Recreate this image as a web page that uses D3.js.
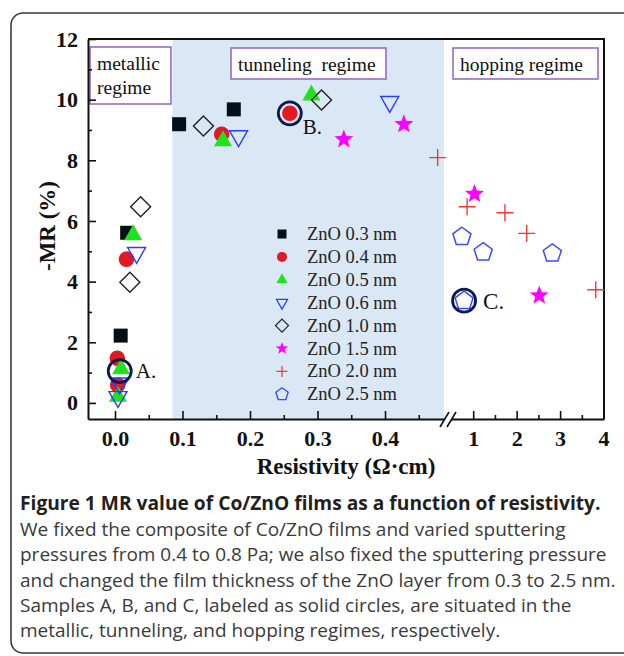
<!DOCTYPE html>
<html><head><meta charset="utf-8">
<script src="https://cdn.jsdelivr.net/npm/d3@7"></script>
<style>body{margin:0;background:#fff}</style>
</head><body>
<svg id="c" width="624" height="656"></svg>
<script>
// ---------- data ----------
const seriesNames = ["ZnO 0.3 nm","ZnO 0.4 nm","ZnO 0.5 nm","ZnO 0.6 nm","ZnO 1.0 nm","ZnO 1.5 nm","ZnO 2.0 nm","ZnO 2.5 nm"];
// [resistivity (Ω·cm), -MR (%)]
const zno03 = [[0.018,5.61],[0.0084,2.22],[0.095,9.19],[0.176,9.68]];
const zno04 = [[0.017,4.74],[0.0034,1.47],[0.004,0.59],[0.158,8.86],[0.259,9.55]];
const zno05 = [[0.027,5.54],[0.009,1.12],[0.0044,0.21],[0.160,8.64],[0.291,10.15]];
const zno06 = [[0.032,4.95],[0.007,0.65],[0.0044,0.20],[0.183,8.80],[0.407,9.93]];
const zno10 = [[0.038,6.47],[0.022,3.98],[0.131,9.13],[0.306,9.99]];
const zno15 = [[0.339,8.69],[0.428,9.19],[1.03,6.89],[2.52,3.54]];
const zno20 = [[0.478,8.09],[0.86,6.47],[1.73,6.27],[2.23,5.59],[3.82,3.73]];
const zno25 = [[0.74,5.48],[1.23,4.97],[2.82,4.93],[0.79,3.37]];
const samples = [["A.",0.007,1.05],["B.",0.259,9.55],["C.",0.79,3.37]];
const regimeNames = ["metallic regime","tunneling regime","hopping regime"];
const tunnelingRange = [0.085, 0.4875];
const yTicks = [0,2,4,6,8,10,12];
const yMinor = [1,3,5,7,9,11];
const xTicksLeft = [0.0,0.1,0.2,0.3,0.4];
const xMinorLeft = [0.05,0.15,0.25,0.35,0.45];
const xTicksRight = [1,2,3,4];
const xMinorRight = [1.5,2.5,3.5];
const captionTitle = "Figure 1 MR value of Co/ZnO films as a function of resistivity.";
const captionLines = [
 "We fixed the composite of Co/ZnO films and varied sputtering",
 "pressures from 0.4 to 0.8 Pa; we also fixed the sputtering pressure",
 "and changed the film thickness of the ZnO layer from 0.3 to 2.5 nm.",
 "Samples A, B, and C, labeled as solid circles, are situated in the",
 "metallic, tunneling, and hopping regimes, respectively."];

// ---------- layout ----------
const svg = d3.select("#c");
const L = 88, R = 604, T = 39, B = 419, BRK = 448;
const xL = d3.scaleLinear().domain([-0.04, 0.49]).range([L, 445.75]);
const xR = d3.scaleLinear().domain([0.42, 4.01]).range([BRK, R]);
const y = d3.scaleLinear().domain([-0.53, 12]).range([B, T]);
const xPos = v => v < 0.49 ? xL(v) : xR(v);
const serif = "'Liberation Serif','Times New Roman',serif";

// frame
svg.append("rect").attr("x",11).attr("y",13).attr("width",650).attr("height",640)
  .attr("rx",12).attr("fill","none").attr("stroke","#3a3a3a").attr("stroke-width",1.6);

// tunneling background
svg.append("rect").attr("x",xL(tunnelingRange[0])).attr("y",T)
  .attr("width",xL(tunnelingRange[1])-xL(tunnelingRange[0])).attr("height",B-T)
  .attr("fill","#dae8f5");

// regime boxes
const boxes = [
  {x:90,y:47,w:81,h:57,lines:["metallic","regime"]},
  {x:231,y:48,w:155,h:31,lines:["tunneling  regime"]},
  {x:453,y:48,w:145,h:31,lines:["hopping regime"]}];
boxes.forEach(b=>{
  svg.append("rect").attr("x",b.x).attr("y",b.y).attr("width",b.w).attr("height",b.h)
    .attr("fill","#fff").attr("stroke","#9a6cc4").attr("stroke-width",1.6);
  b.lines.forEach((t,i)=>{
    svg.append("text").attr("x",b.x+7).attr("y",b.y+23+i*24).text(t)
      .attr("font-family",serif).attr("font-size",19.5).attr("fill","#111")
      .attr("xml:space","preserve").style("white-space","pre");
  });
});

// axes
function styleAxis(g){
  g.selectAll("text").attr("font-family",serif).attr("font-size",22).attr("font-weight","bold").attr("fill","#111");
  g.selectAll("line").attr("stroke","#111").attr("stroke-width",1.6);
  g.selectAll("path").attr("stroke","#111").attr("stroke-width",2);
}
const gy = svg.append("g").attr("transform",`translate(${L},0)`)
  .call(d3.axisLeft(y).tickValues(yTicks).tickFormat(d3.format("d")).tickSize(-8).tickSizeOuter(0).tickPadding(10));
styleAxis(gy);
const gym = svg.append("g").attr("transform",`translate(${L},0)`)
  .call(d3.axisLeft(y).tickValues(yMinor).tickFormat("").tickSize(-4).tickSizeOuter(0));
styleAxis(gym); gym.select(".domain").remove();

const gxl = svg.append("g").attr("transform",`translate(0,${B})`)
  .call(d3.axisBottom(xL).tickValues(xTicksLeft).tickFormat(d3.format(".1f")).tickSize(-8).tickSizeOuter(0).tickPadding(11));
styleAxis(gxl);
const gxlm = svg.append("g").attr("transform",`translate(0,${B})`)
  .call(d3.axisBottom(xL).tickValues(xMinorLeft).tickFormat("").tickSize(-4).tickSizeOuter(0));
styleAxis(gxlm); gxlm.select(".domain").remove();
const gxr = svg.append("g").attr("transform",`translate(0,${B})`)
  .call(d3.axisBottom(xR).tickValues(xTicksRight).tickFormat(d3.format("d")).tickSize(-8).tickSizeOuter(0).tickPadding(11));
styleAxis(gxr);
const gxrm = svg.append("g").attr("transform",`translate(0,${B})`)
  .call(d3.axisBottom(xR).tickValues(xMinorRight).tickFormat("").tickSize(-4).tickSizeOuter(0));
styleAxis(gxrm); gxrm.select(".domain").remove();

// top and right frame lines
svg.append("path").attr("d",`M${L},${T}H${R}V${B}`).attr("fill","none").attr("stroke","#111").attr("stroke-width",2);

// axis break
svg.append("path").attr("d",`M${BRK-8},${B+8}L${BRK+1},${B-7}L${BRK+8},${B-7}L${BRK-1},${B+8}Z`).attr("fill","#fff");
svg.append("path").attr("d",`M${BRK-8},${B+8}L${BRK+1},${B-7}M${BRK-1},${B+8}L${BRK+8},${B-7}`)
  .attr("stroke","#111").attr("stroke-width",1.6).attr("fill","none");

// axis titles
svg.append("text").attr("x",(L+R)/2).attr("y",474).attr("text-anchor","middle")
  .attr("font-family",serif).attr("font-size",23).attr("font-weight","bold").attr("fill","#111")
  .text("Resistivity (Ω·cm)");
svg.append("text").attr("transform",`translate(55,226) rotate(-90)`).attr("text-anchor","middle")
  .attr("font-family",serif).attr("font-size",23).attr("font-weight","bold").attr("fill","#111")
  .text("-MR (%)");

// ---------- markers ----------
const shapes = {
  square: s => `M${-s/2},${-s/2}h${s}v${s}h${-s}Z`,
  circle: r => `M${r},0A${r},${r},0,1,1,${-r},0A${r},${r},0,1,1,${r},0Z`,
  tri: w => { const h=w*0.88; return `M0,${-2*h/3}L${w/2},${h/3}L${-w/2},${h/3}Z`; },
  trid: w => { const h=w*0.88; return `M0,${2*h/3}L${w/2},${-h/3}L${-w/2},${-h/3}Z`; },
  diamond: r => `M0,${-r}L${r},0L0,${r}L${-r},0Z`,
  star: r => { let p=[]; for(let i=0;i<10;i++){const a=-Math.PI/2+i*Math.PI/5, rr=i%2?r*0.42:r; p.push([rr*Math.cos(a),rr*Math.sin(a)]);} return "M"+p.map(q=>q.join(",")).join("L")+"Z"; },
  plus: r => `M${-r},0H${r}M0,${-r}V${r}`,
  pent: r => { let p=[]; for(let i=0;i<5;i++){const a=-Math.PI/2+i*2*Math.PI/5; p.push([r*Math.cos(a),r*Math.sin(a)]);} return "M"+p.map(q=>q.join(",")).join("L")+"Z"; }
};
const styles = [
  {shape:"square", size:14, leg:9,  fill:"#060e18", stroke:"none", sw:0},
  {shape:"circle", size:7.8,leg:5,  fill:"#e01a22", stroke:"none", sw:0},
  {shape:"tri",    size:18, leg:11, fill:"#1fe31f", stroke:"none", sw:0},
  {shape:"trid",   size:18, leg:11, fill:"none", stroke:"#2a3cff", sw:1.4},
  {shape:"diamond",size:10, leg:6.5,fill:"none", stroke:"#222", sw:1.4},
  {shape:"star",   size:10, leg:6.5,fill:"#ff00ff", stroke:"none", sw:0},
  {shape:"plus",   size:8.5,leg:5.5,fill:"none", stroke:"#f03a3a", sw:1.4},
  {shape:"pent",   size:9.5,leg:6.5,fill:"none", stroke:"#3b4cf2", sw:1.5}
];
const allSeries = [zno03,zno04,zno05,zno06,zno10,zno15,zno20,zno25];

allSeries.forEach((data,i)=>{
  const st = styles[i];
  svg.append("g").selectAll("path").data(data).join("path")
    .attr("transform",d=>`translate(${xPos(d[0])},${y(d[1])})`)
    .attr("d",shapes[st.shape](st.size))
    .attr("fill",st.fill).attr("stroke",st.stroke).attr("stroke-width",st.sw);
});

// sample rings
svg.append("g").selectAll("circle").data(samples).join("circle")
  .attr("cx",d=>xPos(d[1])).attr("cy",d=>y(d[2])).attr("r",11.5)
  .attr("fill","none").attr("stroke","#0c1a4c").attr("stroke-width",2.8);
const labOff = {"A.":[16,7,21],"B.":[13,21,21],"C.":[19,8,23]};
svg.append("g").selectAll("text").data(samples).join("text")
  .attr("x",d=>xPos(d[1])+labOff[d[0]][0]).attr("y",d=>y(d[2])+labOff[d[0]][1])
  .attr("font-family",serif).attr("font-size",d=>labOff[d[0]][2]).attr("fill","#111")
  .text(d=>d[0]);

// legend
const lg = svg.append("g");
seriesNames.forEach((n,i)=>{
  const st = styles[i], cy = 234 + i*22.9;
  lg.append("path").attr("transform",`translate(282,${cy})`).attr("d",shapes[st.shape](st.leg))
    .attr("fill",st.fill).attr("stroke",st.stroke).attr("stroke-width",st.sw*0.9);
  lg.append("text").attr("x",307).attr("y",cy+6).text(n)
    .attr("font-family",serif).attr("font-size",18.5).attr("fill","#222");
});

// caption
svg.append("text").attr("x",20).attr("y",510).text(captionTitle)
  .attr("font-family","'Open Sans',sans-serif").attr("font-weight","bold").attr("font-size",19.2).attr("fill","#231f20");
captionLines.forEach((t,i)=>{
  svg.append("text").attr("x",20).attr("y",536+i*25.3).text(t)
    .attr("font-family","'Open Sans',sans-serif").attr("font-size",19).attr("fill","#3a3a3a");
});
</script>
</body></html>
